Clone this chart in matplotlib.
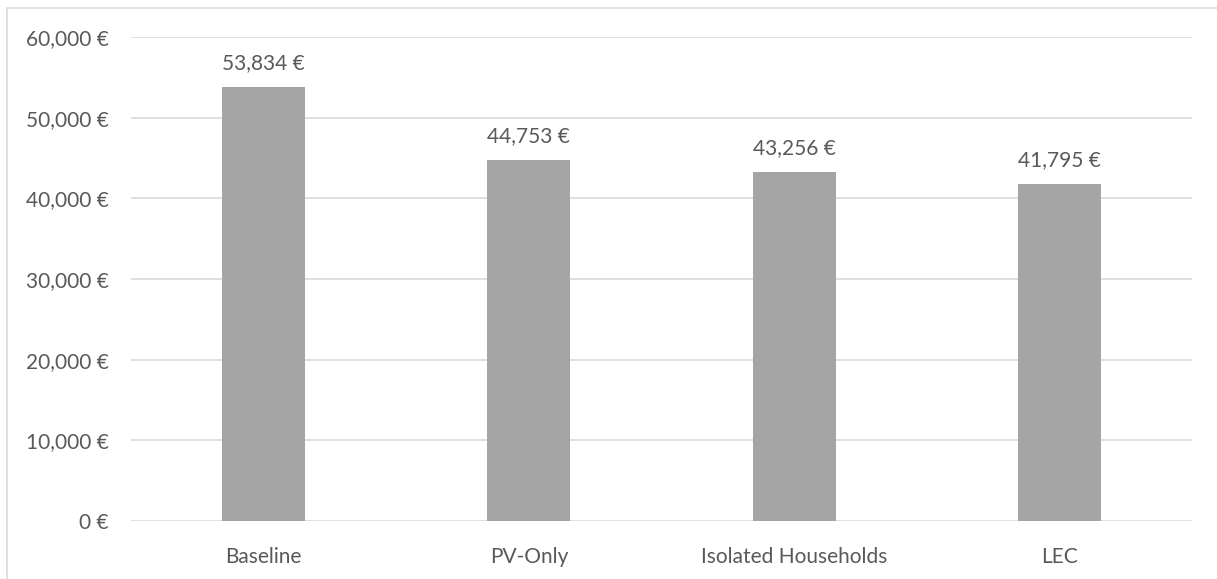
import matplotlib.pyplot as plt
from matplotlib.ticker import FuncFormatter
from matplotlib.patches import Rectangle

categories = ['Baseline', 'PV-Only', 'Isolated Households', 'LEC']
costs = [53834, 44753, 43256, 41795]

plt.rcParams['font.family'] = ['Lato', 'DejaVu Sans']
txt = '#595959'

fig = plt.figure(figsize=(12.17, 5.79), dpi=100)
ax = fig.add_axes([131/1217, 1 - 521/579, 1061/1217, 484/579])

x = range(len(categories))
ax.bar(x, costs, width=0.313, color='#a5a5a5', zorder=3)
for i, v in zip(x, costs):
    ax.annotate(f'{v:,} €', (i, v), xytext=(0, 10), textcoords='offset points',
                ha='center', va='bottom', fontsize=15, color=txt)

ax.set_xlim(-0.5, len(categories) - 0.5)
ax.set_ylim(0, 60000)
ax.set_yticks(range(0, 60001, 10000))
ax.yaxis.set_major_formatter(FuncFormatter(lambda v, p: f'{int(v):,} €'))
ax.set_xticks(list(x))
ax.set_xticklabels(categories)
ax.grid(axis='y', color='#d9d9d9', linewidth=1.2, zorder=0)
for s in ax.spines.values():
    s.set_visible(False)
ax.tick_params(length=0, labelsize=15, labelcolor=txt)
ax.tick_params(axis='y', pad=16)
ax.tick_params(axis='x', pad=19)

# outer chart frame
fig.patches.append(Rectangle((7/1217, -0.01), 1.2, 1 - 8/579 + 0.01,
                             transform=fig.transFigure, fill=False,
                             edgecolor='#d9d9d9', linewidth=1.2))

fig.savefig('out.png', dpi=100)
